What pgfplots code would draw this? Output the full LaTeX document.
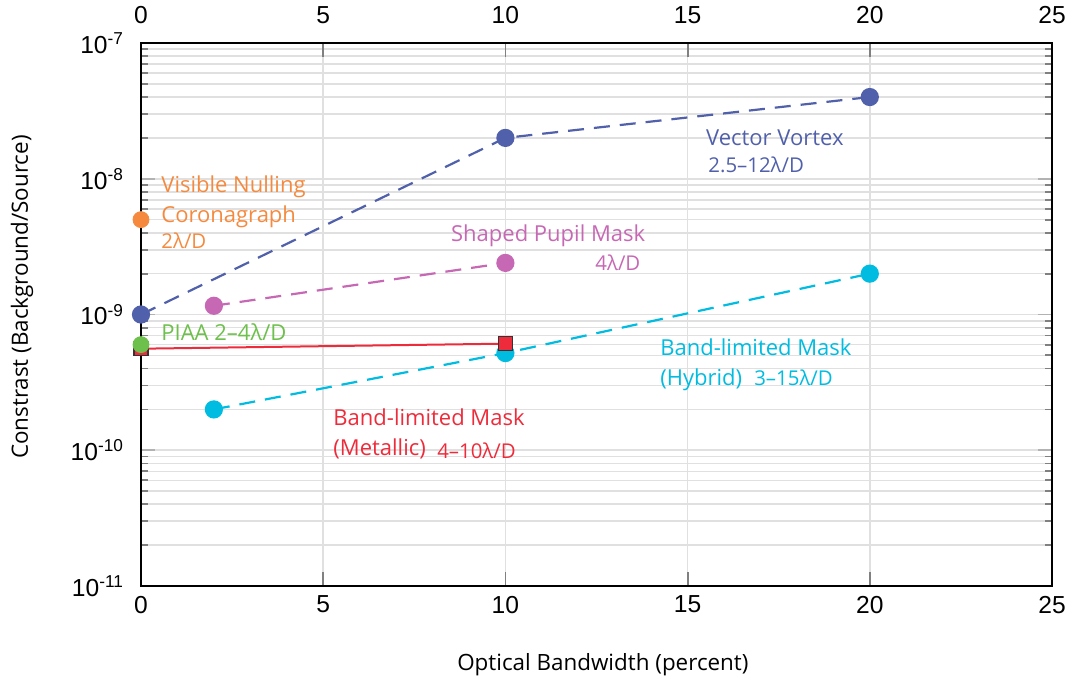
\documentclass[border=0pt]{standalone}
\usepackage{fontspec}
\setmainfont{Liberation Sans}
\newfontfamily\myriad{Open Sans}
\usepackage{pgfplots}
\pgfplotsset{compat=1.18}

\definecolor{vvblue}{HTML}{5060AA}
\definecolor{sppink}{HTML}{C768B4}
\definecolor{vnorange}{HTML}{F58A3E}
\definecolor{piaagreen}{HTML}{6DC04B}
\definecolor{blred}{HTML}{EE2B3A}
\definecolor{blcyan}{HTML}{00BCE0}
\definecolor{gridgray}{HTML}{E0E0E0}

\newcommand{\ann}{\myriad\fontsize{11}{13}\selectfont}
\newcommand{\annsmall}{\myriad\fontsize{10.2}{12}\selectfont}

\begin{document}
\begin{tikzpicture}
\path[use as bounding box] (-70.5pt,-47.5pt) rectangle (470.5pt,293pt);

\begin{axis}[
    scale only axis,
    width=455.5pt, height=271.5pt,
    xmin=0, xmax=25,
    ymode=log, ymin=1e-11, ymax=1e-7,
    xtick={0,5,10,15,20,25},
    ytick={1e-11,1e-10,1e-9,1e-8,1e-7},
    yticklabels={10\textsuperscript{-11},10\textsuperscript{-10},10\textsuperscript{-9},10\textsuperscript{-8},10\textsuperscript{-7}},
    minor ytick={2e-11,3e-11,4e-11,5e-11,6e-11,7e-11,8e-11,9e-11,
                 2e-10,3e-10,4e-10,5e-10,6e-10,7e-10,8e-10,9e-10,
                 2e-9,3e-9,4e-9,5e-9,6e-9,7e-9,8e-9,9e-9,
                 2e-8,3e-8,4e-8,5e-8,6e-8,7e-8,8e-8,9e-8},
    tick align=inside,
    major tick length=7pt,
    minor tick length=3.5pt,
    every major y tick/.append style={gray!60},
    tick style={line width=0.9pt},
    xmajorgrids, ymajorgrids, yminorgrids,
    grid style={draw=gridgray, line width=0.8pt},
    axis line style={line width=1pt},
    /pgf/number format/assume math mode=true,
    tick label style={font=\fontsize{12.3}{14}\selectfont},
    xticklabel style={yshift=-1.4pt},
    yticklabel style={xshift=-5pt},
    xlabel={Optical Bandwidth (percent)},
    ylabel={Constrast (Background/Source)},
    label style={font=\myriad\fontsize{11.2}{13}\selectfont},
    xlabel style={at={(axis description cs:0.507,0)}, anchor=center, yshift=-39.5pt},
    ylabel style={at={(axis description cs:0,0.532)}, anchor=center, yshift=59.5pt},
    clip=false,
]

% Band-limited Mask (Hybrid)
\addplot[blcyan, line width=1.1pt, dash pattern=on 8pt off 5pt,
    mark=*, mark size=4pt, mark options={solid, draw=none, fill=blcyan}]
    coordinates {(2,2e-10) (10,5.2e-10) (20,2e-9)};

% Band-limited Mask (Metallic)
\addplot[blred, line width=1pt,
    mark=square*, mark size=3.5pt, mark options={solid, draw=black!80, fill=blred, line width=0.6pt}]
    coordinates {(0,5.6e-10) (10,6.1e-10)};

% PIAA
\addplot[piaagreen, only marks, mark=*, mark size=4pt, mark options={draw=none, fill=piaagreen}]
    coordinates {(0,6e-10)};

% Visible Nulling Coronagraph
\addplot[vnorange, only marks, mark=*, mark size=4pt, mark options={draw=none, fill=vnorange}]
    coordinates {(0,5e-9)};

% Shaped Pupil Mask
\addplot[sppink, line width=1.1pt, dash pattern=on 8pt off 5pt,
    mark=*, mark size=4pt, mark options={solid, draw=none, fill=sppink}]
    coordinates {(2,1.16e-9) (10,2.4e-9)};

% Vector Vortex
\addplot[vvblue, line width=1.1pt, dash pattern=on 8pt off 5pt,
    mark=*, mark size=4pt, mark options={solid, draw=none, fill=vvblue}]
    coordinates {(0,1e-9) (10,2e-8) (20,4e-8)};

% annotations
\node[anchor=base west, inner sep=0, text=vnorange, font=\ann] at (axis cs:0.55,7.96e-9) {Visible Nulling};
\node[anchor=base west, inner sep=0, text=vnorange, font=\ann] at (axis cs:0.55,4.79e-9) {Coronagraph};
\node[anchor=base west, inner sep=0, text=vnorange, font=\annsmall] at (axis cs:0.55,3.08e-9) {2λ/D};
\node[anchor=base west, inner sep=0, text=piaagreen, font=\ann] at (axis cs:0.55,6.45e-10) {PIAA 2–4λ/D};
\node[anchor=base west, inner sep=0, text=vvblue, font=\ann] at (axis cs:15.5,1.77e-8) {Vector Vortex};
\node[anchor=base west, inner sep=0, text=vvblue, font=\annsmall] at (axis cs:15.56,1.12e-8) {2.5–12λ/D};
\node[anchor=base west, inner sep=0, text=sppink, font=\ann] at (axis cs:8.5,3.47e-9) {Shaped Pupil Mask};
\node[anchor=base west, inner sep=0, text=sppink, font=\annsmall] at (axis cs:12.46,2.12e-9) {4λ/D};
\node[anchor=base west, inner sep=0, text=blcyan, font=\ann] at (axis cs:14.24,5.0e-10) {Band-limited Mask};
\node[anchor=base west, inner sep=0, text=blcyan, font=\ann] at (axis cs:14.24,3.0e-10) {(Hybrid)};
\node[anchor=base west, inner sep=0, text=blcyan, font=\annsmall] at (axis cs:16.82,3.0e-10) {3–15λ/D};
\node[anchor=base west, inner sep=0, text=blred, font=\ann] at (axis cs:5.27,1.52e-10) {Band-limited Mask};
\node[anchor=base west, inner sep=0, text=blred, font=\ann] at (axis cs:5.27,9.16e-11) {(Metallic)};
\node[anchor=base west, inner sep=0, text=blred, font=\annsmall] at (axis cs:8.12,8.7e-11) {4–10λ/D};
\end{axis}

% top tick labels
\begin{axis}[
    scale only axis,
    width=455.5pt, height=271.5pt,
    xmin=0, xmax=25,
    ymode=log, ymin=1e-11, ymax=1e-7,
    axis x line*=top,
    hide y axis,
    xtick={0,5,10,15,20,25},
    xtick style={draw=none},
    axis line style={draw=none},
    /pgf/number format/assume math mode=true,
    tick label style={font=\fontsize{12.3}{14}\selectfont},
    xticklabel style={yshift=6pt},
]
\end{axis}
\end{tikzpicture}
\end{document}
